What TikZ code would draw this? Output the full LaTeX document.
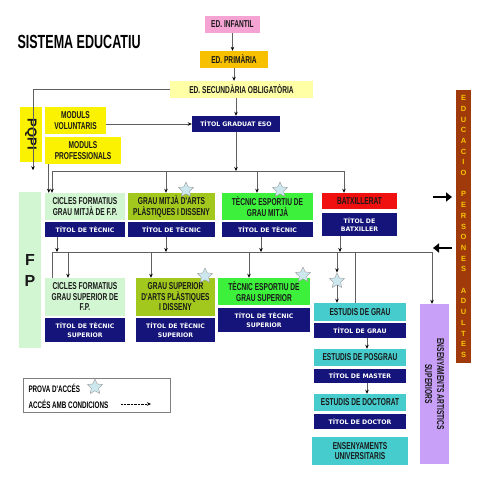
\documentclass[tikz,border=0pt]{standalone}
\usepackage{fontspec}
\setmainfont{Liberation Sans}
\newfontfamily\narrowfont{Liberation Sans}[FakeStretch=0.66]
\newfontfamily\titolfont{DejaVu Sans}
\usepackage{xcolor}
\usepackage{tikz}
\usetikzlibrary{arrows.meta,positioning,shapes.geometric}

\definecolor{infpink}{HTML}{F5A3D3}
\definecolor{primgold}{HTML}{F7C000}
\definecolor{secyellow}{HTML}{FFFFA6}
\definecolor{pqyellow}{HTML}{FAF200}
\definecolor{titnavy}{HTML}{14147A}
\definecolor{fpmint}{HTML}{D2F6D2}
\definecolor{artolive}{HTML}{A2C81E}
\definecolor{espgreen}{HTML}{3CF03C}
\definecolor{batred}{HTML}{F01010}
\definecolor{unicyan}{HTML}{46CCCC}
\definecolor{artviolet}{HTML}{C8A0F8}
\definecolor{adubrown}{HTML}{A03A0A}
\definecolor{adutext}{HTML}{F8C400}
\definecolor{starfill}{HTML}{CDE7EE}
\definecolor{connline}{HTML}{606060}

\begin{document}
\begin{tikzpicture}
[x=1pt,y=-1pt,
box/.style={rectangle,inner sep=1pt,align=center,text=black!90,font=\narrowfont\bfseries\fontsize{10}{10.5}\selectfont},
titol/.style={rectangle,inner sep=1pt,align=center,fill=titnavy,text=white,font=\titolfont\bfseries\fontsize{6.2}{8.5}\selectfont},
provastar/.style={star,star points=5,star point ratio=2.1,minimum size=16,inner sep=0pt,fill=starfill,draw=gray!80},
conn/.style={draw=connline,line width=0.8pt,-{Stealth[length=4pt,width=3.5pt,black]}},
gline/.style={draw=connline,line width=0.8pt},
bigarrow/.style={line width=2.6pt,-{Triangle[length=6pt,width=9pt]}}]
\useasboundingbox[fill=white] (0,0) rectangle (480,480);

\node[anchor=west,font=\narrowfont\bfseries\fontsize{19}{21}\selectfont] (title) at (14,42) {SISTEMA EDUCATIU};

% obligatoria
\node[box,fill=infpink,minimum width=55,minimum height=17] (inf) at (232.5,24.5) {ED. INFANTIL};
\node[box,fill=primgold,minimum width=68,minimum height=17] (prim) at (234,59.5) {ED. PRIMÀRIA};
\node[box,fill=secyellow,minimum width=143,minimum height=17] (sec) at (241.5,89.5) {ED. SECUNDÀRIA OBLIGATÒRIA};
\node[titol,minimum width=88,minimum height=16] (eso) at (236,124) {TÍTOL GRADUAT ESO};

% pqpi
\node[box,fill=pqyellow,minimum width=55,minimum height=22,rotate=-90,font=\bfseries\fontsize{13}{14}\selectfont] (pqpi) at (31,134.5) {PQPI};
\node[box,fill=pqyellow,minimum width=61,minimum height=27] (mv) at (75.5,120.5) {MODULS\\VOLUNTARIS};
\node[box,fill=pqyellow,minimum width=76,minimum height=27] (mp) at (83,150.5) {MODULS\\PROFESSIONALS};

% grau mitja
\node[box,fill=fpmint,minimum width=22,minimum height=156,font=\bfseries\fontsize{16}{21}\selectfont] (fp) at (30,270) {F\\P};
\node[box,fill=fpmint,minimum width=80,minimum height=27] (cfm) at (85,206.5) {CICLES FORMATIUS\\GRAU MITJÀ DE F.P.};
\node[titol,minimum width=80,minimum height=15] (tcfm) at (85,229.5) {TÍTOL DE TÈCNIC};
\node[box,fill=artolive,minimum width=87,minimum height=27] (gma) at (171.5,206.5) {GRAU MITJÀ D'ARTS\\PLÀSTIQUES I DISSENY};
\node[titol,minimum width=87,minimum height=15] (tgma) at (171.5,229.5) {TÍTOL DE TÈCNIC};
\node[box,fill=espgreen,minimum width=91,minimum height=27] (tem) at (267.5,206.5) {TÈCNIC ESPORTIU DE\\GRAU MITJÀ};
\node[titol,minimum width=91,minimum height=15] (ttem) at (267.5,229.5) {TÍTOL DE TÈCNIC};
\node[box,fill=batred,minimum width=75,minimum height=16] (bat) at (359.5,201) {BATXILLERAT};
\node[titol,minimum width=75,minimum height=23] (tbat) at (359.5,224.5) {TÍTOL DE\\BATXILLER};

% grau superior
\node[box,fill=fpmint,minimum width=80,minimum height=38] (cfs) at (85,297) {CICLES FORMATIUS\\GRAU SUPERIOR DE\\F.P.};
\node[titol,minimum width=80,minimum height=24] (tcfs) at (85,330) {TÍTOL DE TÈCNIC\\SUPERIOR};
\node[box,fill=artolive,minimum width=79,minimum height=38] (gsa) at (175.5,297) {GRAU SUPERIOR\\D'ARTS PLÀSTIQUES\\I DISSENY};
\node[titol,minimum width=79,minimum height=24] (tgsa) at (175.5,330) {TÍTOL DE TÈCNIC\\SUPERIOR};
\node[box,fill=espgreen,minimum width=92,minimum height=27] (tes) at (264,291.5) {TÈCNIC ESPORTIU DE\\GRAU SUPERIOR};
\node[titol,minimum width=92,minimum height=24] (ttes) at (264,320) {TÍTOL DE TÈCNIC\\SUPERIOR};

% universitat
\node[box,fill=unicyan,minimum width=92,minimum height=18] (eg) at (360,312) {ESTUDIS DE GRAU};
\node[titol,minimum width=92,minimum height=15] (teg) at (360,330.5) {TÍTOL DE GRAU};
\node[box,fill=unicyan,minimum width=92,minimum height=17] (epg) at (360,357.5) {ESTUDIS DE POSGRAU};
\node[titol,minimum width=92,minimum height=14] (tepg) at (360,376) {TÍTOL DE MASTER};
\node[box,fill=unicyan,minimum width=92,minimum height=17] (ed) at (360,402.5) {ESTUDIS DE DOCTORAT};
\node[titol,minimum width=92,minimum height=15] (ted) at (360,421.5) {TÍTOL DE DOCTOR};
\node[box,fill=unicyan,minimum width=96,minimum height=28] (eu) at (360,451) {ENSENYAMENTS\\UNIVERSITARIS};
\node[box,fill=artviolet,minimum width=160,minimum height=29,rotate=-90,font=\narrowfont\bfseries\fontsize{10}{12}\selectfont] (art) at (434.5,384) {ENSENYAMENTS ARTISTICS\\SUPERIORS};

% adults
\node[box,fill=adubrown,text=adutext,minimum width=15,minimum height=273,font=\bfseries\fontsize{7.5}{10.7}\selectfont] (adu) at (463.5,226.5)
  {E\\D\\U\\C\\A\\C\\I\\O\\~\\P\\E\\R\\S\\O\\N\\E\\S\\~\\A\\D\\U\\L\\T\\E\\S};

% proves d'acces
\node[provastar] (s1) at (186,190) {};
\node[provastar] (s2) at (280,190) {};
\node[provastar] (s3) at (205,276) {};
\node[provastar] (s4) at (303,275) {};
\node[provastar] (s5) at (337,281) {};

% busos
\coordinate (b1) at (236,171);
\coordinate (b1w) at (52,171);
\coordinate (b1a) at (166,171);
\coordinate (b1b) at (257,171);
\coordinate (b1e) at (344,171);
\coordinate (b2w) at (52,252);
\coordinate (b2a) at (57,252);
\coordinate (b2b) at (166,252);
\coordinate (b2c) at (261,252);
\coordinate (b2d) at (340,252);
\coordinate (b2f) at (68,252);
\coordinate (b2g) at (151,252);
\coordinate (b2h) at (249,252);
\coordinate (b2i) at (337,252);
\coordinate (b2j) at (355,252);
\coordinate (b2e) at (432,252);

\draw[conn] (inf.south) -- (inf.south |- prim.north);
\draw[conn] (prim.south) -- (prim.south |- sec.north);
\draw[conn] (eso.north |- sec.south) -- (eso.north);
\draw[conn] (sec.west) -| ([xshift=2,yshift=-8]pqpi.east);
\draw[conn] (eso.west -| mv.east) -- (eso.west);
\draw[conn] (eso.south) -- (b1);

\draw[gline] (b1w) -- (b1e);
\draw[conn] (b1w) -- (b1w |- cfm.north);
\draw[conn] ([xshift=4]mp.south west) -- ([xshift=4]cfm.north west);
\draw[conn] (b1a) -- (b1a |- gma.north);
\draw[conn] (b1b) -- (b1b |- tem.north);
\draw[conn] (b1e) -- (b1e |- bat.north);

\draw[gline] (b2w) -- (b2e);
\draw[conn] (b2a |- tcfm.south) -- (b2a);
\draw[conn] (b2b |- tgma.south) -- (b2b);
\draw[conn] (b2c |- ttem.south) -- (b2c);
\draw[conn] (b2d |- tbat.south) -- (b2d);
\draw[gline] (b2w) -- (b2w |- cfs.north);
\draw[conn] (b2f) -- (b2f |- cfs.north);
\draw[conn] (b2g) -- (b2g |- gsa.north);
\draw[conn] (b2h) -- (b2h |- tes.north);
\draw[conn] (b2i) -- (s5.north);
\draw[conn] (s5.south) -- (s5.south |- eg.north);
\draw[gline] (b2j) -- (b2j |- eg.north);
\draw[conn] (b2e) -- (b2e |- art.west);

\draw[conn] ([xshift=7]teg.south) -- ([xshift=7]epg.north);
\draw[conn] ([xshift=7]tepg.south) -- ([xshift=7]ed.north);

\coordinate (ar1) at (433,197);
\coordinate (ar2) at (452,197);
\coordinate (al1) at (452,248);
\coordinate (al2) at (433,248);
\draw[bigarrow] (ar1) -- (ar2);
\draw[bigarrow] (al1) -- (al2);

% llegenda
\node[draw=gray,line width=0.8pt,minimum width=147,minimum height=34] (leg) at (96.5,395) {};
\node[anchor=west,font=\narrowfont\bfseries\fontsize{9.5}{10}\selectfont] (lprova) at (25,388) {PROVA D'ACCÉS};
\node[provastar] (ls) at (95,387) {};
\node[anchor=west,font=\narrowfont\bfseries\fontsize{9.5}{10}\selectfont] (lcond) at (25,404) {ACCÉS AMB CONDICIONS};
\coordinate (ld1) at (121,404);
\coordinate (ld2) at (151,404);
\draw[densely dotted,-{Stealth[length=4pt,width=3.5pt]}] (ld1) -- (ld2);
\end{tikzpicture}
\end{document}
